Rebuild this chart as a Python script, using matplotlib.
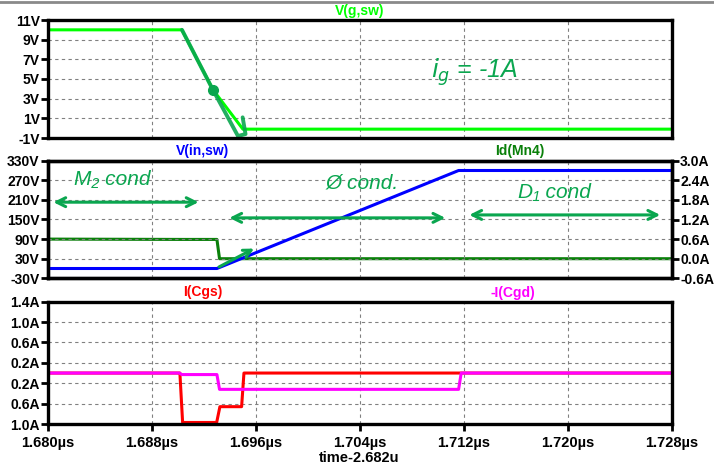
import matplotlib
matplotlib.use('Agg')
import matplotlib.pyplot as plt
from matplotlib.lines import Line2D

# time axis (µs)
t_ticks = [1.680, 1.688, 1.696, 1.704, 1.712, 1.720, 1.728]
t_labels = ['1.680µs', '1.688µs', '1.696µs', '1.704µs', '1.712µs', '1.720µs', '1.728µs']

# V(g,sw)
vg_t = [1.680, 1.6903, 1.6927, 1.6950, 1.728]
vg_v = [10.0, 10.0, 3.9, -0.1, -0.1]

# V(in,sw)
vin_t = [1.680, 1.6930, 1.7116, 1.728]
vin_v = [0.0, 0.0, 300.0, 300.0]

# Id(Mn4)
id_t = [1.680, 1.6903, 1.6930, 1.6932, 1.728]
id_a = [0.6, 0.59, 0.59, 0.0, 0.0]

# I(Cgs)
icgs_t = [1.680, 1.69015, 1.69036, 1.69298, 1.69323, 1.6949, 1.69508, 1.728]
icgs_a = [0.0, 0.0, -0.97, -0.97, -0.66, -0.66, 0.0, 0.0]

# -I(Cgd)
icgd_t = [1.680, 1.6901, 1.6903, 1.6930, 1.6932, 1.7116, 1.7118, 1.728]
icgd_a = [0.0, 0.0, -0.03, -0.03, -0.32, -0.32, 0.0, 0.0]

vg_ticks = [-1, 1, 3, 5, 7, 9, 11]
vin_ticks = [-30, 30, 90, 150, 210, 270, 330]
id_ticks = [-0.6, 0.0, 0.6, 1.2, 1.8, 2.4, 3.0]
ic_ticks = [-1.0, -0.6, -0.2, 0.2, 0.6, 1.0, 1.4]
ic_labels = ['1.0A', '0.6A', '0.2A', '0.2A', '0.6A', '1.0A', '1.4A']  # LTspice drops the minus sign

# pen-annotation stroke over the gate voltage
pen_t = [1.69031, 1.69269, 1.69462, 1.69520, 1.69498]
pen_v = [10.0, 3.9, -0.8, -0.6, 1.1]

W, H = 714, 467
plt.rcParams['font.family'] = ['Liberation Sans', 'DejaVu Sans']
fig = plt.figure(figsize=(W / 100, H / 100), dpi=100)
fig.patch.set_facecolor('white')

PEN = '#0aa64f'
GRID = dict(color='#808080', linestyle=(0, (3, 3)), linewidth=0.8)
TICKFONT = dict(fontsize=10, fontweight='bold')


def make_axes(top, bottom):
    ax = fig.add_axes([48 / W, 1 - bottom / H, (671.7 - 48) / W, (bottom - top) / H])
    ax.set_xlim(1.680, 1.728)
    ax.set_xticks(t_ticks)
    ax.grid(True, **GRID)
    for s in ax.spines.values():
        s.set_linewidth(2.4)
    ax.tick_params(axis='both', direction='out', length=5, width=2, pad=1)
    ax.set_xticklabels([])
    return ax


def fig_text(x, y, s, color):
    fig.text(x / W, 1 - y / H, s, color=color, ha='center', va='center',
             fontsize=10, fontweight='bold')


# top panel: gate voltage
ax1 = make_axes(20, 138)
ax1.set_ylim(-1, 11)
ax1.set_yticks(vg_ticks)
ax1.set_yticklabels([f'{v}V' for v in vg_ticks], **TICKFONT)
ax1.tick_params(axis='x', length=0)
ax1.plot(vg_t, vg_v, color='#00ff00', lw=2.2, solid_joinstyle='round')
ax1.plot(pen_t, pen_v, color=PEN, lw=2.8, alpha=0.9, solid_capstyle='round')
ax1.plot([pen_t[1]], [pen_v[1]], 'o', color=PEN, ms=7)
ax1.text(1.71285, 5.7, '$i_g$ = -1A', color=PEN, fontsize=18, ha='center', va='center',
         fontstyle='italic')

# middle panel: V(in,sw) and Id(Mn4)
ax2 = make_axes(160.7, 278.3)
ax2.set_ylim(-30, 330)
ax2.set_yticks(vin_ticks)
ax2.set_yticklabels([f'{v}V' for v in vin_ticks], **TICKFONT)
ax2.tick_params(axis='x', length=0)
ax2r = ax2.twinx()
ax2r.set_ylim(-0.6, 3.0)
ax2r.set_yticks(id_ticks)
ax2r.set_yticklabels([f'{v:.1f}A' for v in id_ticks], **TICKFONT)
ax2r.tick_params(axis='y', direction='out', length=5, width=2, pad=1)
for s in ax2r.spines.values():
    s.set_linewidth(2.4)
ax2r.plot(id_t, id_a, color='#0a800a', lw=2.2)
ax2.set_zorder(ax2r.get_zorder() + 1)
ax2.patch.set_visible(False)
ax2.plot(vin_t, vin_v, color='#0000ff', lw=2.2)

arrow = dict(arrowstyle='<->', color=PEN, lw=2.2, mutation_scale=16)
ax2.annotate('', xy=(1.6802, 203), xytext=(1.6918, 203), arrowprops=arrow)
ax2.annotate('', xy=(1.69374, 155), xytext=(1.71079, 155), arrowprops=arrow)
ax2.annotate('', xy=(1.71221, 164), xytext=(1.72733, 164), arrowprops=arrow)
ax2.annotate('', xy=(1.69605, 65), xytext=(1.69298, 1),
             arrowprops=dict(arrowstyle='->', color=PEN, lw=2.2, mutation_scale=14))
ax2.text(1.68492, 271, 'M₂ cond', color=PEN, fontsize=15, ha='center', va='center',
         fontstyle='italic')
ax2.text(1.70415, 262, 'Ø cond.', color=PEN, fontsize=15, ha='center', va='center',
         fontstyle='italic')
ax2.text(1.71900, 234, 'D₁ cond', color=PEN, fontsize=15, ha='center', va='center',
         fontstyle='italic')

# bottom panel: gate capacitor currents
ax3 = make_axes(301.7, 424)
ax3.set_ylim(-1.0, 1.4)
ax3.set_yticks(ic_ticks)
ax3.set_yticklabels(ic_labels, **TICKFONT)
ax3.set_xticklabels(t_labels, fontsize=10.5, fontweight='bold')
ax3.tick_params(axis='x', pad=4)
ax3.plot(icgs_t, icgs_a, color='#ff0000', lw=2.2)
ax3.plot(icgd_t, icgd_a, color='#ff00ff', lw=2.2)

# trace names
fig_text(360, 11, 'V(g,sw)', '#00ff00')
fig_text(203, 151.5, 'V(in,sw)', '#0000ff')
fig_text(520, 151.5, 'Id(Mn4)', '#0a800a')
fig_text(203, 292, 'I(Cgs)', '#ff0000')
fig_text(513, 292.5, '-I(Cgd)', '#ff00ff')
fig.text(359 / W, 1 - 458 / H, 'time-2.682u', ha='center', va='center',
         fontsize=10.5, fontweight='bold')

# window border line at top
fig.add_artist(Line2D([0, 1], [1 - 1.5 / H, 1 - 1.5 / H], color='#8a8a8a', lw=2))

fig.savefig('out.png', dpi=100)
